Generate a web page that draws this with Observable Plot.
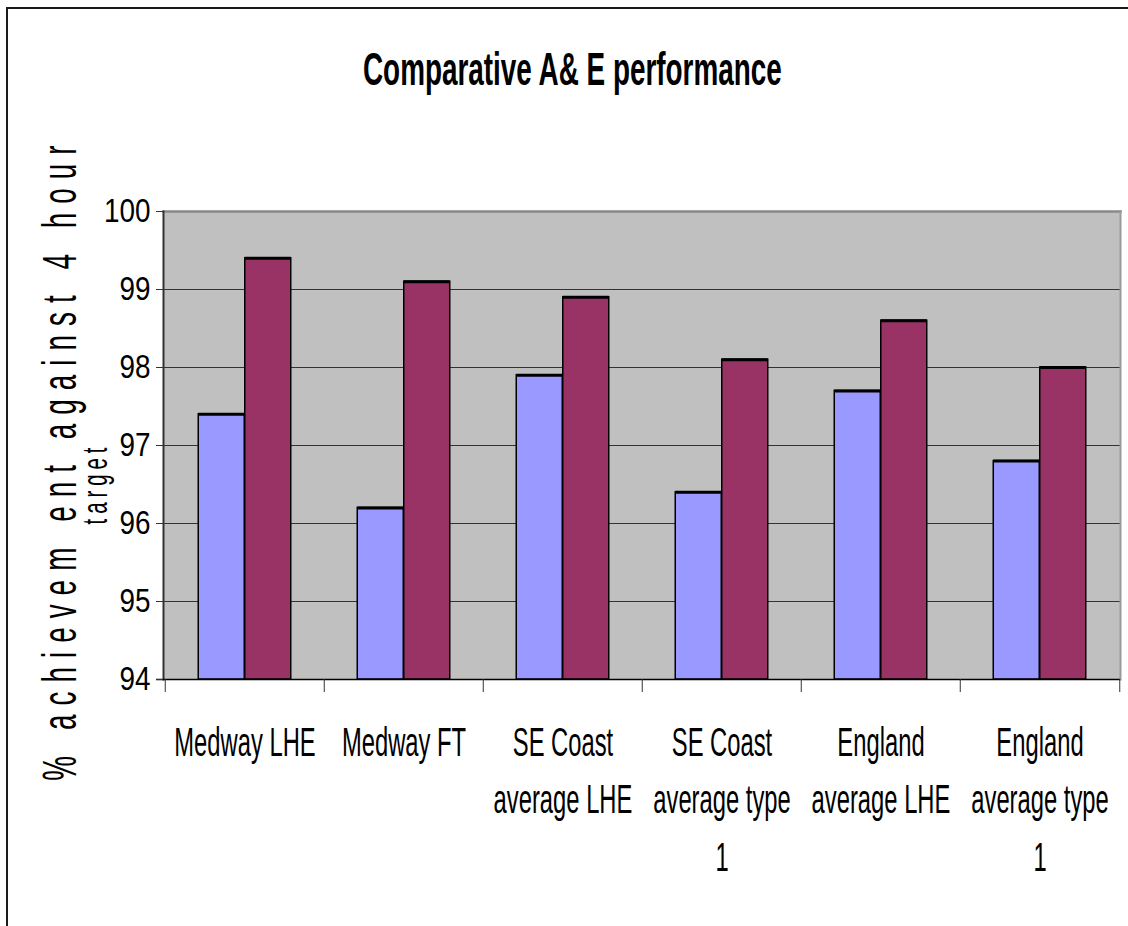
<!DOCTYPE html>
<html><head><meta charset="utf-8">
<script src="https://cdn.jsdelivr.net/npm/d3@7"></script>
<script src="https://cdn.jsdelivr.net/npm/@observablehq/plot@0.6"></script>
<style>
html,body{margin:0;padding:0;background:#fff;overflow:hidden;width:1128px;height:926px;}
#wrap{position:relative;width:1128px;height:926px;overflow:hidden;}
#border{position:absolute;left:6px;top:7px;width:1200px;height:1000px;border-top:2px solid #1a1a1a;border-left:2px solid #1a1a1a;pointer-events:none;z-index:5;}
#title{height:100px;box-sizing:border-box;padding-top:56px;width:1144px;text-align:center;font:bold 34px/34px "Liberation Sans", Arial, sans-serif;color:#000;}
#title span{display:inline-block;transform:scale(0.82,1.37);transform-origin:50% 28.8px;white-space:nowrap;}
#chart svg{display:block;}
</style></head><body>
<div id="wrap"><div id="border"></div><div id="title"><span>Comparative A&amp; E performance</span></div><div id="chart"></div></div>
<script>
const categories = ["Medway LHE", "Medway FT", "SE Coast average LHE", "SE Coast average type 1", "England average LHE", "England average type 1"];
const tickLabels = ["Medway LHE", "Medway FT", "SE Coast\naverage LHE", "SE Coast\naverage type\n1", "England\naverage LHE", "England\naverage type\n1"];
const seriesA = [97.4, 96.2, 97.9, 96.4, 97.7, 96.8];
const seriesB = [99.4, 99.1, 98.9, 98.1, 98.6, 98.0];
const yTicks = [94, 95, 96, 97, 98, 99, 100];
const yLabelLine1 = "% achievem ent against 4 hour";
const yLabelLine2 = "target";

const baseline = yTicks[0];
const W = 1128, H = 826, mL = 163, mR = 8, mT = 111, mB = 247;
const step = (W - mL - mR) / categories.length;
const barW = 46.5;
const rows = categories.map((c, i) => ({category: c, a: seriesA[i], b: seriesB[i], label: tickLabels[i]}));
const font = '"Liberation Sans", Arial, sans-serif';

const plot = Plot.plot({
  width: W, height: H,
  marginLeft: mL, marginRight: mR, marginTop: mT, marginBottom: mB,
  style: {background: "transparent", fontFamily: font, color: "#000", overflow: "visible"},
  x: {type: "band", domain: categories, padding: 0, axis: null},
  y: {domain: [yTicks[0], yTicks[yTicks.length - 1]], axis: null},
  marks: [
    Plot.frame({fill: "#C0C0C0"}),
    Plot.gridY(yTicks.slice(1, -1), {stroke: "#333", strokeOpacity: 1, strokeWidth: 1}),
    Plot.frame({anchor: "top", stroke: "#888", strokeWidth: 2.5}),
    Plot.frame({anchor: "right", stroke: "#999", strokeWidth: 2}),
    Plot.frame({anchor: "left", stroke: "#333", strokeWidth: 2}),
    Plot.barY(rows, {x: "category", y1: baseline, y2: "a", fill: "#9999FF", stroke: "#000", strokeWidth: 1.5, insetLeft: step / 2 - barW, insetRight: step / 2}),
    Plot.barY(rows, {x: "category", y1: baseline, y2: "b", fill: "#993366", stroke: "#000", strokeWidth: 1.5, insetLeft: step / 2, insetRight: step / 2 - barW}),
    Plot.tickY(rows, {x: "category", y: "a", stroke: "#000", strokeWidth: 3, insetLeft: step / 2 - barW, insetRight: step / 2}),
    Plot.tickY(rows, {x: "category", y: "b", stroke: "#000", strokeWidth: 3, insetLeft: step / 2, insetRight: step / 2 - barW}),
    Plot.ruleY([baseline], {stroke: "#000", strokeWidth: 1.5, insetLeft: -7}),
    Plot.axisY(yTicks, {anchor: "left", tickSize: 7, tickPadding: 6, fontSize: 34, label: null, stroke: "#333", tickFormat: d => String(d)}),
    Plot.axisX(categories, {anchor: "bottom", tickSize: 13, tickFormat: () => "", label: null, dx: -step / 2, stroke: "#333"}),
    Plot.axisX([categories[categories.length - 1]], {anchor: "bottom", tickSize: 13, tickFormat: () => "", label: null, dx: step / 2, stroke: "#333"}),
    Plot.text(rows, {x: "category", text: "label", frameAnchor: "bottom", lineAnchor: "top", dy: 36, fontSize: 29, lineHeight: 1.38, fill: "#000", ariaDescription: "category-label"}),
    Plot.text([yLabelLine1], {text: d => d, frameAnchor: "left", textAnchor: "middle", rotate: -90, dx: -88, dy: 13, lineAnchor: "bottom", fontSize: 34, fill: "#000", ariaDescription: "y-label-1"}),
    Plot.text([yLabelLine2], {text: d => d, frameAnchor: "left", textAnchor: "middle", rotate: -90, dx: -57, dy: 38, lineAnchor: "bottom", fontSize: 25, fill: "#000", ariaDescription: "y-label-2"})
  ]
});

function stretch(sel, sx, sy, ls) {
  plot.querySelectorAll(sel).forEach(t => {
    let tr = t.getAttribute("transform") || "";
    const num = v => v != null && /^-?[\d.]+$/.test(v);
    const x = t.getAttribute("x"), y = t.getAttribute("y");
    if (num(x) || num(y)) {
      tr += ` translate(${num(x) ? x : 0},${num(y) ? y : 0})`;
      if (num(x)) t.removeAttribute("x");
      if (num(y)) t.removeAttribute("y");
    }
    t.setAttribute("transform", `${tr} scale(${sx},${sy})`);
    if (ls) t.style.letterSpacing = ls + "px";
  });
}
stretch('[aria-description="category-label"] text', 0.82, 1.43);
stretch('[aria-label="y-axis tick label"] text', 0.82, 1);
stretch('[aria-description="y-label-1"] text', 0.82, 1.41, 11);
stretch('[aria-description="y-label-2"] text', 0.82, 1.41, 6);

document.getElementById("chart").appendChild(plot);
</script>
</body></html>
